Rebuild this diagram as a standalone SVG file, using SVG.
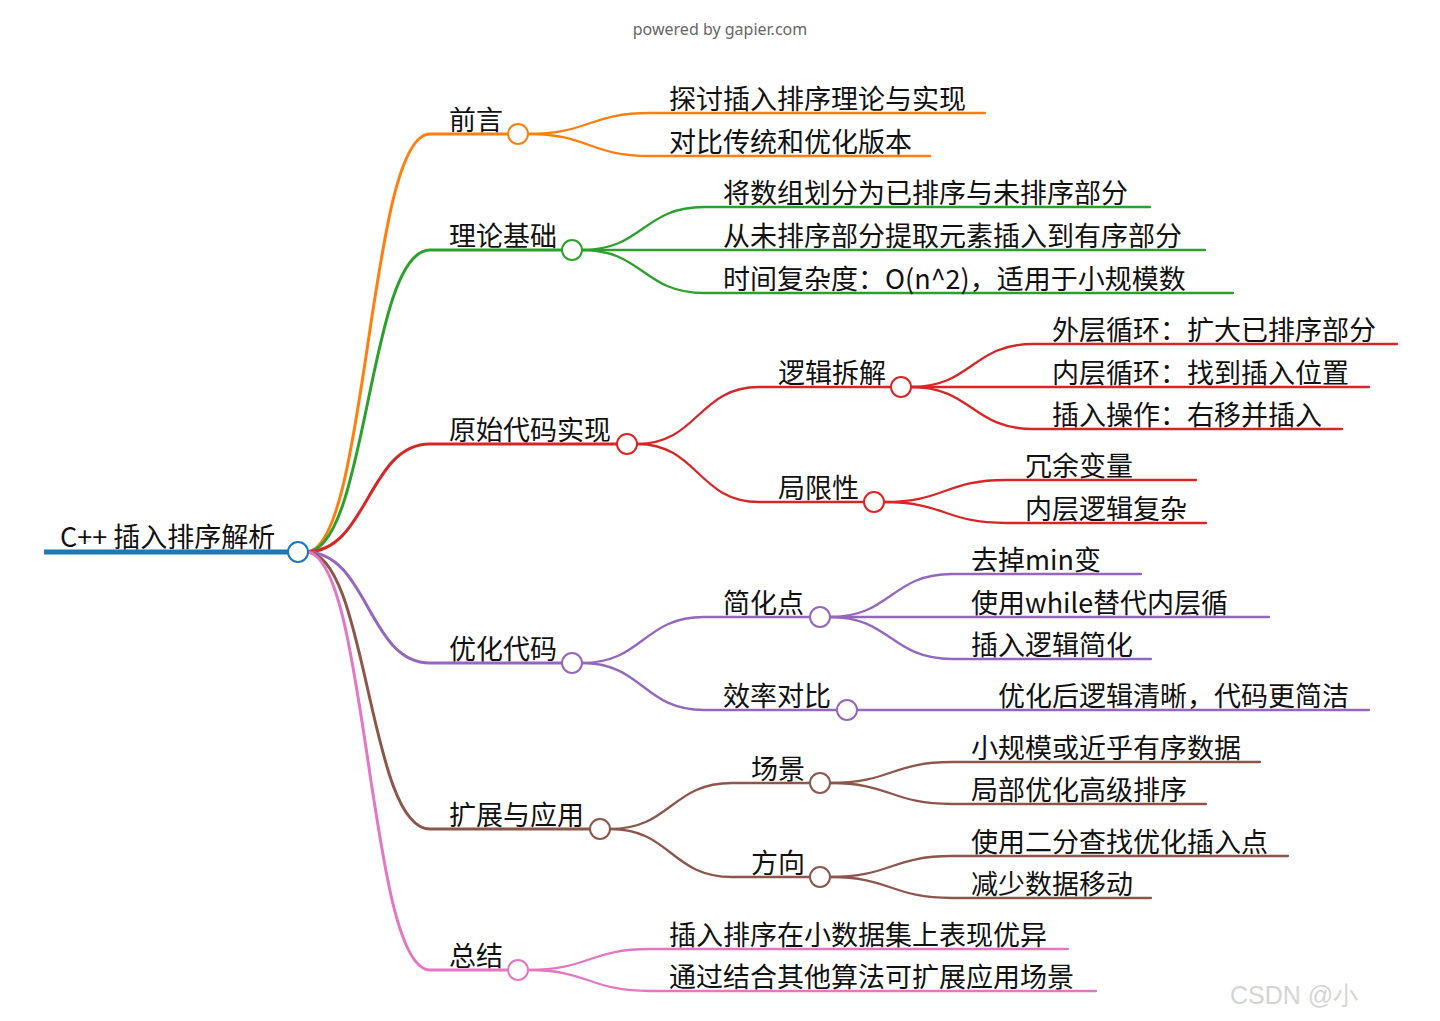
<svg xmlns="http://www.w3.org/2000/svg" width="1440" height="1021" viewBox="0 0 1440 1021">
<style>
text{font-family:"Noto Sans CJK SC","Noto Sans",sans-serif;font-size:27px;fill:#111}
.c{fill:none;stroke-linecap:round}
.l1{stroke-width:3}
.l2{stroke-width:2.3}
circle{fill:#fff;stroke-width:2}
.o{stroke:#ff7f0e}.g{stroke:#2ca02c}.r{stroke:#d62728}.p{stroke:#9467bd}.b{stroke:#8c564b}.k{stroke:#e377c2}
.note{font-family:"Noto Sans",sans-serif;font-size:16px;fill:#666}
.wm{font-family:"Liberation Sans",sans-serif;font-size:25px;fill:#d4d4d4}
</style>
<rect width="1440" height="1021" fill="#fff"/>
<text class="note" x="720" y="35" text-anchor="middle">powered by gapier.com</text>
<g id="connectors">
<path class="c l1 o" d="M306,552 C368,552 368,134 430,134 L508,134"/>
<path class="c l1 g" d="M306,552 C368,552 368,250 430,250 L562,250"/>
<path class="c l1 r" d="M306,552 C368,552 368,444 430,444 L617,444"/>
<path class="c l1 p" d="M306,552 C368,552 368,663 430,663 L562,663"/>
<path class="c l1 b" d="M306,552 C368,552 368,829 430,829 L590,829"/>
<path class="c l1 k" d="M306,552 C368,552 368,970 430,970 L508,970"/>
<path class="c l2 o" d="M528,134 C589,134 589,113 650,113 L985,113"/>
<path class="c l2 o" d="M528,134 C589,134 589,156 650,156 L930,156"/>
<path class="c l2 g" d="M582,250 C643,250 643,207 704,207 L1150,207"/>
<path class="c l2 g" d="M582,250 L1205,250"/>
<path class="c l2 g" d="M582,250 C643,250 643,293 704,293 L1233,293"/>
<path class="c l2 r" d="M637,444 C698,444 698,387 759,387 L891,387"/>
<path class="c l2 r" d="M637,444 C698,444 698,502 759,502 L864,502"/>
<path class="c l2 r" d="M911,387 C972,387 972,344 1033,344 L1397,344"/>
<path class="c l2 r" d="M911,387 L1369,387"/>
<path class="c l2 r" d="M911,387 C972,387 972,429 1033,429 L1342,429"/>
<path class="c l2 r" d="M884,502 C945,502 945,480 1006,480 L1196,480"/>
<path class="c l2 r" d="M884,502 C945,502 945,523 1006,523 L1206,523"/>
<path class="c l2 p" d="M582,663 C643,663 643,617 704,617 L810,617"/>
<path class="c l2 p" d="M582,663 C643,663 643,710 704,710 L837,710"/>
<path class="c l2 p" d="M830,617 C891,617 891,574 952,574 L1141,574"/>
<path class="c l2 p" d="M830,617 L1269,617"/>
<path class="c l2 p" d="M830,617 C891,617 891,659 952,659 L1151,659"/>
<path class="c l2 p" d="M857,710 L1369,710"/>
<path class="c l2 b" d="M610,829 C671,829 671,783 732,783 L810,783"/>
<path class="c l2 b" d="M610,829 C671,829 671,877 732,877 L810,877"/>
<path class="c l2 b" d="M830,783 C891,783 891,762 952,762 L1260,762"/>
<path class="c l2 b" d="M830,783 C891,783 891,804 952,804 L1206,804"/>
<path class="c l2 b" d="M830,877 C891,877 891,856 952,856 L1288,856"/>
<path class="c l2 b" d="M830,877 C891,877 891,898 952,898 L1151,898"/>
<path class="c l2 k" d="M528,970 C589,970 589,949 650,949 L1068,949"/>
<path class="c l2 k" d="M528,970 C589,970 589,991 650,991 L1096,991"/>
</g>
<g id="root">
<line x1="44" y1="552" x2="288" y2="552" stroke="#1f77b4" stroke-width="5"/>
<circle cx="298" cy="552" r="10" stroke="#1f77b4"/>
<text x="60" y="547">C++ 插入排序解析</text>
</g>
<g id="n-qianyan"><circle class="o" cx="518" cy="134" r="10"/><text x="449" y="130">前言</text></g>
<g id="n-qianyan-1"><text x="669" y="109">探讨插入排序理论与实现</text></g>
<g id="n-qianyan-2"><text x="669" y="152">对比传统和优化版本</text></g>
<g id="n-lilun"><circle class="g" cx="572" cy="250" r="10"/><text x="449" y="246">理论基础</text></g>
<g id="n-lilun-1"><text x="723" y="203">将数组划分为已排序与未排序部分</text></g>
<g id="n-lilun-2"><text x="723" y="246">从未排序部分提取元素插入到有序部分</text></g>
<g id="n-lilun-3"><text x="723" y="289">时间复杂度：O(n^2)，适用于小规模数</text></g>
<g id="n-yuanshi"><circle class="r" cx="627" cy="444" r="10"/><text x="449" y="440">原始代码实现</text></g>
<g id="n-luoji"><circle class="r" cx="901" cy="387" r="10"/><text x="778" y="383">逻辑拆解</text></g>
<g id="n-luoji-1"><text x="1052" y="340">外层循环：扩大已排序部分</text></g>
<g id="n-luoji-2"><text x="1052" y="383">内层循环：找到插入位置</text></g>
<g id="n-luoji-3"><text x="1052" y="425">插入操作：右移并插入</text></g>
<g id="n-juxian"><circle class="r" cx="874" cy="502" r="10"/><text x="778" y="498">局限性</text></g>
<g id="n-juxian-1"><text x="1025" y="476">冗余变量</text></g>
<g id="n-juxian-2"><text x="1025" y="519">内层逻辑复杂</text></g>
<g id="n-youhua"><circle class="p" cx="572" cy="663" r="10"/><text x="449" y="659">优化代码</text></g>
<g id="n-jianhua"><circle class="p" cx="820" cy="617" r="10"/><text x="723" y="613">简化点</text></g>
<g id="n-jianhua-1"><text x="971" y="570">去掉min变</text></g>
<g id="n-jianhua-2"><text x="971" y="613">使用while替代内层循</text></g>
<g id="n-jianhua-3"><text x="971" y="655">插入逻辑简化</text></g>
<g id="n-xiaolv"><circle class="p" cx="847" cy="710" r="10"/><text x="723" y="706">效率对比</text></g>
<g id="n-xiaolv-1"><text x="998" y="706">优化后逻辑清晰，代码更简洁</text></g>
<g id="n-kuozhan"><circle class="b" cx="600" cy="829" r="10"/><text x="449" y="825">扩展与应用</text></g>
<g id="n-changjing"><circle class="b" cx="820" cy="783" r="10"/><text x="751" y="779">场景</text></g>
<g id="n-changjing-1"><text x="971" y="758">小规模或近乎有序数据</text></g>
<g id="n-changjing-2"><text x="971" y="800">局部优化高级排序</text></g>
<g id="n-fangxiang"><circle class="b" cx="820" cy="877" r="10"/><text x="751" y="873">方向</text></g>
<g id="n-fangxiang-1"><text x="971" y="852">使用二分查找优化插入点</text></g>
<g id="n-fangxiang-2"><text x="971" y="894">减少数据移动</text></g>
<g id="n-zongjie"><circle class="k" cx="518" cy="970" r="10"/><text x="449" y="966">总结</text></g>
<g id="n-zongjie-1"><text x="669" y="945">插入排序在小数据集上表现优异</text></g>
<g id="n-zongjie-2"><text x="669" y="987">通过结合其他算法可扩展应用场景</text></g>
<text class="wm" x="1230" y="1004">CSDN @小</text>
</svg>
